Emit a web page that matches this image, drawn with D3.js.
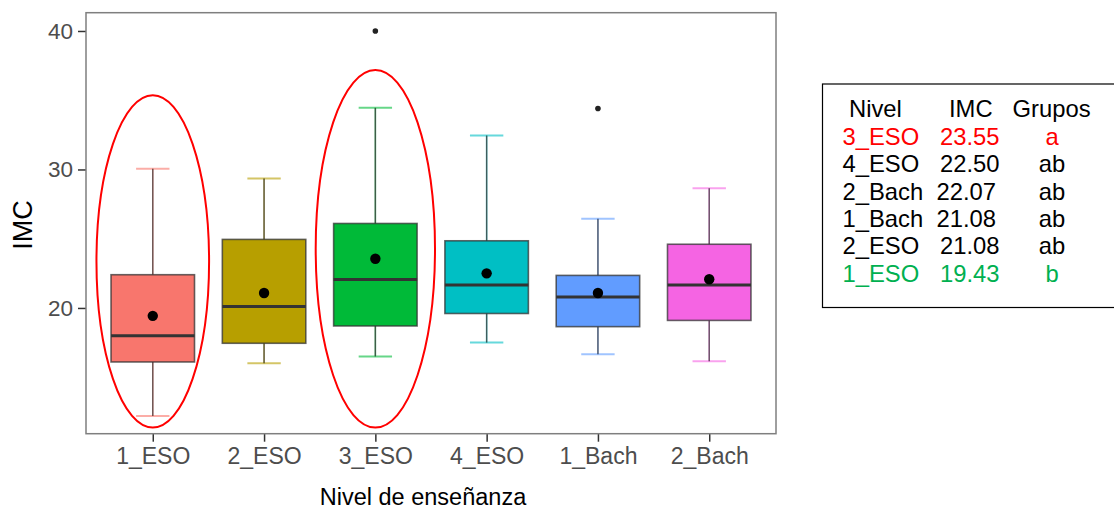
<!DOCTYPE html>
<html>
<head>
<meta charset="utf-8">
<script src="https://cdn.jsdelivr.net/npm/d3@7"></script>
<style>
  html, body { margin: 0; padding: 0; background: #fff; }
  svg { display: block; font-family: "Liberation Sans", Arial, Helvetica, sans-serif; }
</style>
</head>
<body>
<svg id="chart" width="1114" height="511"></svg>
<script>
// Education levels (x categories) and their boxplot summaries of IMC
const niveles = ["1_ESO", "2_ESO", "3_ESO", "4_ESO", "1_Bach", "2_Bach"];
const colores = ["#F8766D", "#B79F00", "#00BA38", "#00BFC4", "#619CFF", "#F564E3"];
const whiskerLow = [12.2, 16.0, 16.5, 17.5, 16.65, 16.15];
const q1 = [16.1, 17.45, 18.7, 19.6, 18.65, 19.1];
const mediana = [18.0, 20.1, 22.05, 21.65, 20.8, 21.65];
const q3 = [22.4, 24.95, 26.1, 24.85, 22.35, 24.6];
const whiskerHigh = [30.05, 29.35, 34.45, 32.45, 26.45, 28.65];
// Points beyond the whiskers
const outlierNivel = ["3_ESO", "1_Bach"];
const outlierValor = [40.0, 34.4];

// Mean table (Tukey grouping), sorted by mean
const tablaNivel = ["3_ESO", "4_ESO", "2_Bach", "1_Bach", "2_ESO", "1_ESO"];
const tablaIMC = [23.55, 22.50, 22.07, 21.08, 21.08, 19.43];
const tablaGrupo = ["a", "ab", "ab", "ab", "ab", "b"];
const tablaColor = ["#ff0000", "#000000", "#000000", "#000000", "#000000", "#00b050"];

// Highlighted levels: category, top/bottom in IMC units, half-width in category steps
const resaltado = ["1_ESO", "3_ESO"];
const resaltadoTop = [35.36, 37.18];
const resaltadoBottom = [11.36, 11.36];
const resaltadoHalf = [0.506, 0.536];

const yTicks = [20, 30, 40];

const svg = d3.select("#chart");
const panel = { left: 86, right: 776, top: 12.7, bottom: 433.7 };

const x = d3.scalePoint().domain(niveles).range([panel.left, panel.right]).padding(0.6);
const y = d3.scaleLinear().domain([10.92, 41.32]).range([panel.bottom, panel.top]);
const step = x.step();
const boxW = step * 0.75;
const capW = step * 0.3;
const color = d3.scaleOrdinal().domain(niveles).range(colores);

// Axes
const yAxis = svg.append("g")
  .attr("transform", `translate(${panel.left},0)`)
  .call(d3.axisLeft(y).tickValues(yTicks).tickSize(8).tickPadding(5).tickFormat(d3.format("d")));
yAxis.select(".domain").remove();
yAxis.selectAll("line").attr("stroke", "#333").attr("stroke-width", 1.5);
yAxis.selectAll("text").attr("fill", "#4d4d4d").style("font-size", "22.5px");

const xAxis = svg.append("g")
  .attr("transform", `translate(0,${panel.bottom})`)
  .call(d3.axisBottom(x).tickSize(8).tickPadding(6));
xAxis.select(".domain").remove();
xAxis.selectAll("line").attr("stroke", "#333").attr("stroke-width", 1.5);
xAxis.selectAll("text").attr("fill", "#4d4d4d").style("font-size", "23px");

// Boxes
const datos = niveles.map((n, i) => ({
  n, lo: whiskerLow[i], q1: q1[i], med: mediana[i], q3: q3[i], hi: whiskerHigh[i],
  mean: tablaIMC[tablaNivel.indexOf(n)]
}));

const g = svg.append("g");
const grp = g.selectAll("g.box").data(datos).join("g").attr("class", "box");

// error bars in group colour
grp.append("line")
  .attr("x1", d => x(d.n)).attr("x2", d => x(d.n))
  .attr("y1", d => y(d.lo)).attr("y2", d => y(d.hi))
  .attr("stroke", d => color(d.n)).attr("stroke-width", 1.6).attr("stroke-opacity", 0.6);
["lo", "hi"].forEach(k => {
  grp.append("line")
    .attr("x1", d => x(d.n) - capW / 2).attr("x2", d => x(d.n) + capW / 2)
    .attr("y1", d => y(d[k])).attr("y2", d => y(d[k]))
    .attr("stroke", d => color(d.n)).attr("stroke-width", 2).attr("stroke-opacity", 0.6);
});
// whiskers
grp.append("line")
  .attr("x1", d => x(d.n)).attr("x2", d => x(d.n))
  .attr("y1", d => y(d.lo)).attr("y2", d => y(d.q1))
  .attr("stroke", "#333").attr("stroke-width", 1.4).attr("stroke-opacity", 0.75);
grp.append("line")
  .attr("x1", d => x(d.n)).attr("x2", d => x(d.n))
  .attr("y1", d => y(d.q3)).attr("y2", d => y(d.hi))
  .attr("stroke", "#333").attr("stroke-width", 1.4).attr("stroke-opacity", 0.75);
// box
grp.append("rect")
  .attr("x", d => x(d.n) - boxW / 2).attr("width", boxW)
  .attr("y", d => y(d.q3)).attr("height", d => y(d.q1) - y(d.q3))
  .attr("fill", d => color(d.n))
  .attr("stroke", "#333").attr("stroke-opacity", 0.75).attr("stroke-width", 1.6);
// median
grp.append("line")
  .attr("x1", d => x(d.n) - boxW / 2).attr("x2", d => x(d.n) + boxW / 2)
  .attr("y1", d => y(d.med)).attr("y2", d => y(d.med))
  .attr("stroke", "#333").attr("stroke-width", 3);
// mean
grp.append("circle")
  .attr("cx", d => x(d.n)).attr("cy", d => y(d.mean)).attr("r", 5.2).attr("fill", "#000");

// outliers
g.selectAll("circle.out").data(outlierNivel.map((n, i) => ({ n, v: outlierValor[i] })))
  .join("circle").attr("class", "out")
  .attr("cx", d => x(d.n)).attr("cy", d => y(d.v)).attr("r", 2.8).attr("fill", "#222");

// highlight ellipses
resaltado.forEach((n, i) => {
  const yt = y(resaltadoTop[i]), yb = y(resaltadoBottom[i]);
  svg.append("ellipse")
    .attr("cx", x(n)).attr("cy", (yt + yb) / 2)
    .attr("rx", resaltadoHalf[i] * step).attr("ry", (yb - yt) / 2)
    .attr("fill", "none").attr("stroke", "#ff0000").attr("stroke-width", 2);
});

// panel border
svg.append("rect")
  .attr("x", panel.left).attr("y", panel.top)
  .attr("width", panel.right - panel.left).attr("height", panel.bottom - panel.top)
  .attr("fill", "none").attr("stroke", "#7f7f7f").attr("stroke-width", 1.5);

// axis titles
svg.append("text")
  .attr("transform", "translate(32,225) rotate(-90)")
  .attr("text-anchor", "middle").style("font-size", "27px").attr("fill", "#000")
  .text("IMC");
svg.append("text")
  .attr("x", 423).attr("y", 505)
  .attr("text-anchor", "middle").style("font-size", "23.5px").attr("fill", "#000")
  .text("Nivel de enseñanza");

// mean table
const tabla = svg.append("g");
tabla.append("rect")
  .attr("x", 822.5).attr("y", 84).attr("width", 300).attr("height", 223.5)
  .attr("fill", "#fff").attr("stroke", "#000").attr("stroke-width", 1.2);
const fs = "23.8px";
tabla.append("text").attr("x", 849).attr("y", 117).style("font-size", fs).text("Nivel");
tabla.append("text").attr("x", 949).attr("y", 117).style("font-size", fs).text("IMC");
tabla.append("text").attr("x", 1012.5).attr("y", 117).style("font-size", fs).text("Grupos");
const rowY = d3.scaleLinear().domain([0, 5]).range([145, 281.5]);
const imcX = [940, 940, 936.5, 936.5, 940, 940];
tablaNivel.forEach((n, i) => {
  tabla.append("text").attr("x", 842.5).attr("y", rowY(i)).style("font-size", fs)
    .attr("fill", tablaColor[i]).text(n);
  tabla.append("text").attr("x", imcX[i]).attr("y", rowY(i)).style("font-size", fs)
    .attr("fill", tablaColor[i]).text(d3.format(".2f")(tablaIMC[i]));
  tabla.append("text").attr("x", 1052).attr("y", rowY(i)).style("font-size", fs)
    .attr("text-anchor", "middle").attr("fill", tablaColor[i]).text(tablaGrupo[i]);
});
</script>
</body>
</html>
